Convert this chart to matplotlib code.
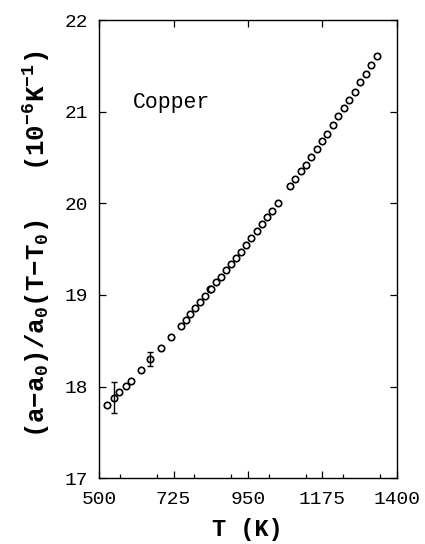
import numpy as np
import matplotlib
matplotlib.use('Agg')
import matplotlib.pyplot as plt
from matplotlib.ticker import MultipleLocator

# Copper expansion data
temps = [525, 546, 561, 581, 596, 626, 655, 686, 716, 747, 762, 776, 791, 806, 821, 836, 838,
         854, 869, 884, 900, 915, 930, 945, 960, 976, 992, 1008, 1024, 1041,
         1077, 1093, 1109, 1125, 1141, 1157, 1173, 1190, 1206, 1223, 1239, 1255,
         1272, 1289, 1306, 1323, 1341]
alpha = [17.80, 17.88, 17.94, 18.01, 18.06, 18.18, 18.30, 18.42, 18.54, 18.66, 18.73, 18.79,
         18.86, 18.92, 18.99, 19.06, 19.07, 19.14, 19.20, 19.27, 19.34, 19.40, 19.47, 19.54,
         19.62, 19.70, 19.77, 19.85, 19.92, 20.00,
         20.19, 20.27, 20.35, 20.42, 20.51, 20.59, 20.68, 20.76, 20.85, 20.95, 21.04, 21.13,
         21.22, 21.32, 21.41, 21.51, 21.61]

# the two points that carry error bars
err_temps = [546, 655]
err_alpha = [17.88, 18.30]
err_size = [0.17, 0.075]

plt.rcParams['font.family'] = ['Liberation Mono', 'DejaVu Sans']
plt.rcParams['mathtext.fontset'] = 'custom'
plt.rcParams['mathtext.rm'] = 'Liberation Mono:bold'
plt.rcParams['mathtext.it'] = 'Liberation Mono:bold'
plt.rcParams['mathtext.bf'] = 'Liberation Mono:bold'

fig = plt.figure(figsize=(4.25, 5.44), dpi=100)
ax = fig.add_axes([0.233, 0.121, 0.701, 0.842])

ax.plot(temps, alpha, linestyle='none', marker='o', markersize=4.6,
        markerfacecolor='white', markeredgecolor='black', markeredgewidth=1.2)
ax.errorbar(err_temps, err_alpha, yerr=err_size, fmt='none', ecolor='black',
            elinewidth=1.0, capsize=2.5, capthick=1.0)

ax.set_xlim(500, 1400)
ax.set_ylim(17, 22)
ax.set_xticks([500, 725, 950, 1175, 1400])
ax.xaxis.set_minor_locator(MultipleLocator(112.5))
ax.set_yticks([17, 18, 19, 20, 21, 22])

ax.tick_params(which='both', direction='in', top=True, right=True, labelsize=14, width=0.9)
ax.tick_params(which='major', length=5)
ax.tick_params(axis='x', which='major', pad=9)
ax.tick_params(axis='y', which='major', pad=8)
ax.tick_params(which='minor', length=3, top=False)
for s in ax.spines.values():
    s.set_linewidth(1.0)

ax.text(602, 21.1, 'Copper', fontsize=15.5, va='center', ha='left')

fig.text(0.581, 0.026, 'T (K)', fontsize=17, fontweight='bold', ha='center', va='center')
fig.text(0.085, 0.55,
         r'(a$-$a$_0$)/a$_0$(T$-$T$_0$)   (10$^{-6}$K$^{-1}$)',
         fontsize=18.5, fontweight='bold', rotation=90, ha='center', va='center')

fig.savefig('out.png', dpi=100)
